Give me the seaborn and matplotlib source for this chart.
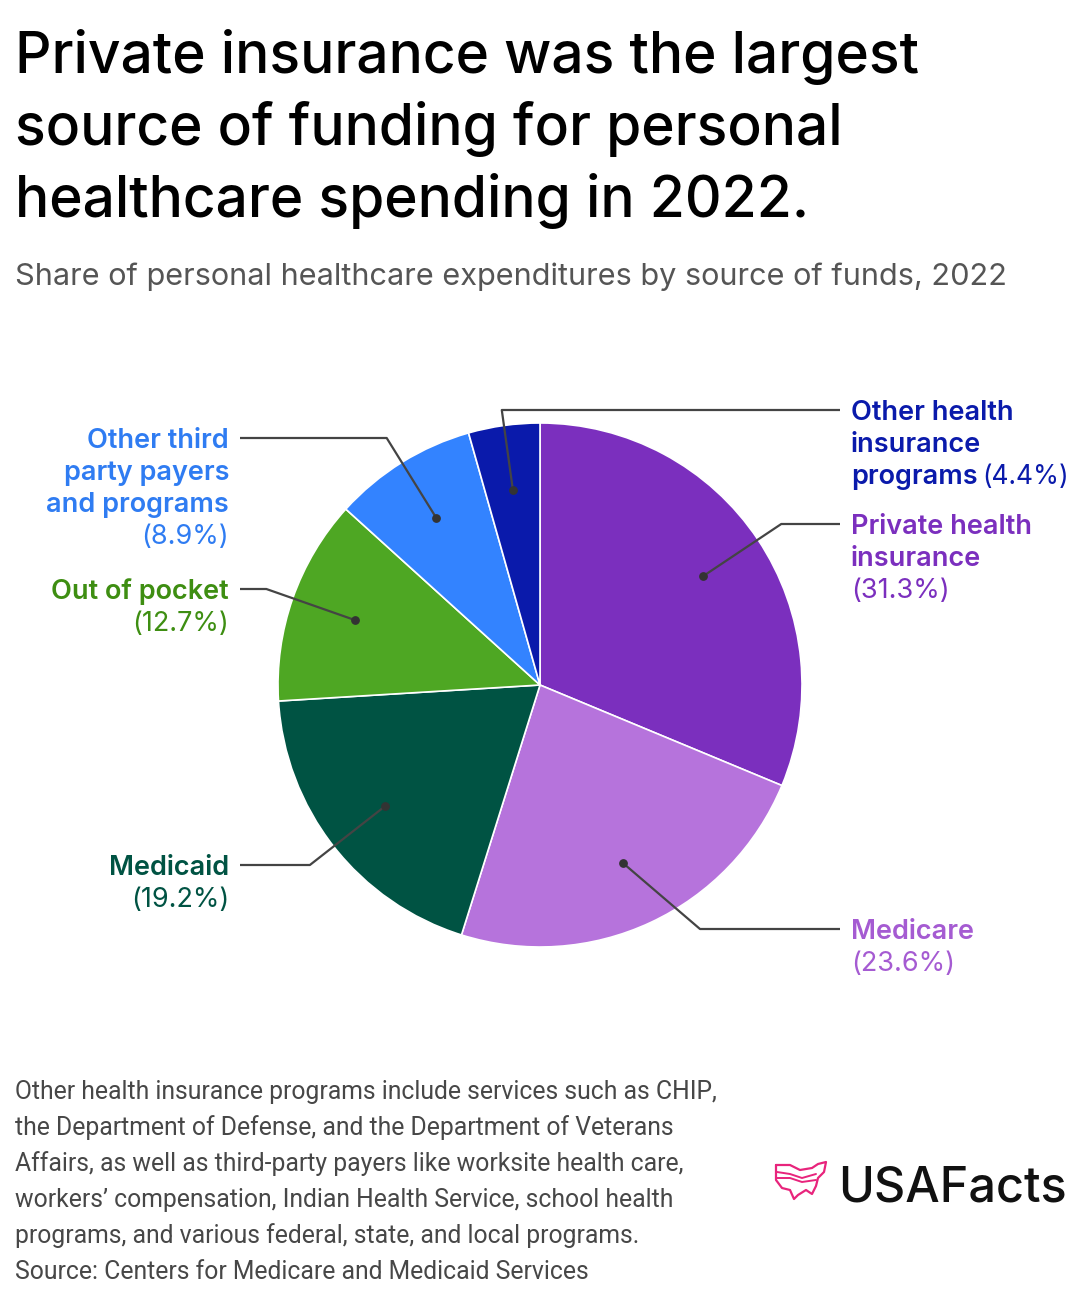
import matplotlib
matplotlib.use("Agg")
import matplotlib.pyplot as plt
import seaborn as sns
import numpy as np

# ---------------- data ----------------
categories = ["Private health insurance", "Medicare", "Medicaid", "Out of pocket",
              "Other third party payers and programs", "Other health insurance programs"]
shares = [31.3, 23.6, 19.2, 12.7, 8.9, 4.4]
slice_colors = ["#7B2FBE", "#B673DC", "#005343", "#4EA723", "#3383FF", "#0A1AAB"]
label_colors = ["#7B2FBE", "#A55BD2", "#005343", "#3E8E12", "#2F7CF2", "#0A1AAB"]
label_names = [["Private health", "insurance"], ["Medicare"], ["Medicaid"], ["Out of pocket"],
               ["Other third", "party payers", "and programs"], ["Other health", "insurance", "programs"]]
title_lines = ["Private insurance was the largest", "source of funding for personal",
               "healthcare spending in 2022."]
subtitle = "Share of personal healthcare expenditures by source of funds, 2022"
footnote_lines = [
    "Other health insurance programs include services such as CHIP,",
    "the Department of Defense, and the Department of Veterans",
    "Affairs, as well as third-party payers like worksite health care,",
    "workers\u2019 compensation, Indian Health Service, school health",
    "programs, and various federal, state, and local programs.",
    "Source: Centers for Medicare and Medicaid Services",
]

# ---------------- layout ----------------
W, H = 1080, 1304
sns.set_theme(style="white")
plt.rcParams["font.family"] = ["Inter", "DejaVu Sans"]

fig = plt.figure(figsize=(W / 100, H / 100), dpi=100)
ax = fig.add_axes([0, 0, 1, 1])

def Y(p):
    return H - p

cx, cy, R = 540, Y(685), 262
wedges, _ = ax.pie(shares, colors=slice_colors, startangle=90, counterclock=False,
                   radius=R, center=(cx, cy),
                   wedgeprops=dict(edgecolor="white", linewidth=1.2))
ax.set_xlim(0, W)
ax.set_ylim(0, H)
ax.set_aspect("equal")
ax.axis("off")

# label layout: (side, line y in px, elbow x in px or None for radial)
label_layout = [("R", 524, None), ("R", 929, 700), ("L", 865, None), ("L", 589, None),
                ("L", 438, None), ("R", 410, None)]
renderer = fig.canvas.get_renderer()
line_color = "#444444"
LH = 32
LFS = 19.5
for w, names, pct, col, (side, ly, ex) in zip(wedges, label_names, shares, label_colors, label_layout):
    mid = np.deg2rad((w.theta1 + w.theta2) / 2)
    dx, dy = cx + 0.75 * R * np.cos(mid), cy + 0.75 * R * np.sin(mid)
    yl = Y(ly)
    if ex is None:
        ex = cx + (yl - cy) / np.tan(mid)
    endx = 840 if side == "R" else 240
    ax.plot([dx, ex, endx], [dy, yl, yl], color=line_color, lw=1.6, solid_capstyle="butt", zorder=3)
    ax.scatter([dx], [dy], s=28, color="#333333", zorder=4)
    tx = 851 if side == "R" else 229
    ha = "left" if side == "R" else "right"
    pct_txt = f"({pct}%)"
    for i, nm in enumerate(names):
        ax.text(tx, yl - 10 - i * LH, nm, ha=ha, va="baseline", fontsize=LFS,
                fontweight="semibold", color=col)
    if len(names) == 3 and side == "R":
        t = ax.text(tx, yl - 10 - 2 * LH, names[-1], ha=ha, va="baseline", fontsize=LFS,
                    fontweight="semibold", color=(0, 0, 0, 0))
        bb = t.get_window_extent(renderer=renderer)
        ax.text(bb.x1 + 5, yl - 10 - 2 * LH, pct_txt, ha="left", va="baseline",
                fontsize=LFS - 0.5, fontweight="normal", color=col)
    else:
        ax.text(tx, yl - 10 - len(names) * LH, pct_txt, ha=ha, va="baseline", fontsize=LFS,
                fontweight="normal", color=col)

# titles
for i, ln in enumerate(title_lines):
    ax.text(15, Y(73 + 72 * i), ln, ha="left", va="baseline", fontsize=41,
            fontweight="medium", color="#000000")
ax.text(15, Y(285), subtitle, ha="left", va="baseline", fontsize=22.1,
        color="#555555")

# footnote
for i, ln in enumerate(footnote_lines):
    ax.text(15, Y(1099 + 36 * i), ln, ha="left", va="baseline", fontsize=17.8,
            color="#474747", family=["Roboto", "DejaVu Sans"])

# logo
ax.text(838, Y(1201), "USAFacts", ha="left", va="baseline", fontsize=35,
        fontweight="medium", color="#111111")
outline = np.array([[776, 1165], [790, 1165], [800, 1170], [812, 1168], [818, 1164],
                    [826, 1162], [824, 1172], [818, 1178], [816, 1186], [812, 1194],
                    [806, 1190], [798, 1195], [794, 1199], [790, 1190], [782, 1188],
                    [776, 1180], [776, 1165]], dtype=float)
ax.plot(outline[:, 0], H - outline[:, 1], color="#E8247C", lw=1.6, zorder=3)
for yy in ([1172, 1178], [1178, 1182]):
    xs = np.array([777, 790, 802, 816])
    ys = np.array([yy[0], yy[1] - 4, yy[1], yy[0] + 2], dtype=float)
    ax.plot(xs, H - ys, color="#E8247C", lw=1.4, zorder=3)

fig.savefig("out.png", dpi=100, facecolor="white")
